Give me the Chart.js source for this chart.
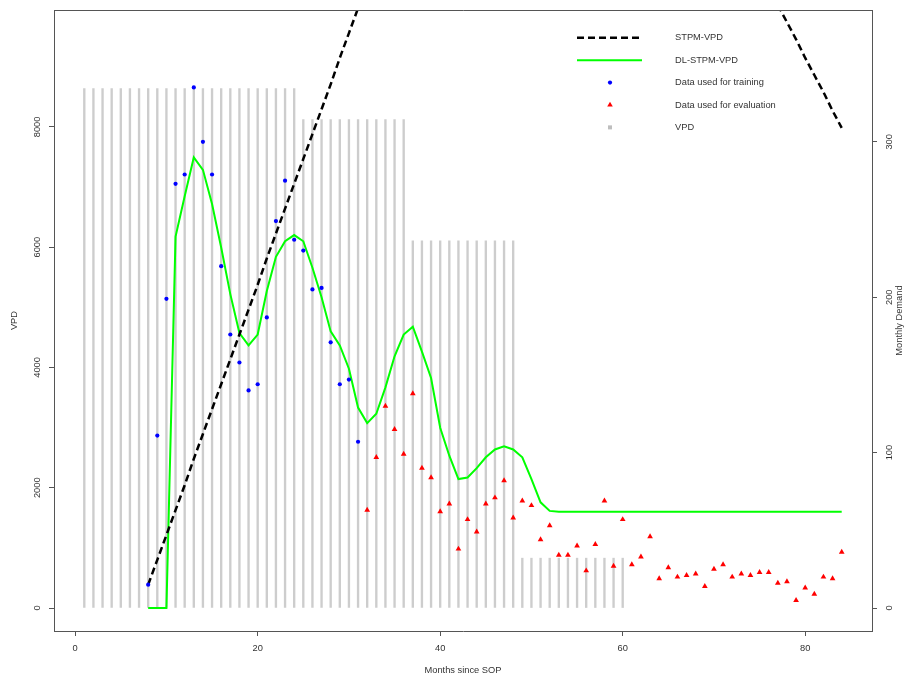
<!DOCTYPE html>
<html>
<head>
<meta charset="utf-8">
<script src="https://cdn.jsdelivr.net/npm/chart.js@4.4.1/dist/chart.umd.min.js"></script>
<style>
  html, body { margin: 0; padding: 0; background: #ffffff; }
  canvas { display: block; }
</style>
</head>
<body>
<canvas id="chart" width="904" height="682"></canvas>
<script>
// Axis tick values
const xTicks = [0, 20, 40, 60, 80];
const vpdTicks = [0, 2000, 4000, 6000, 8000];
const demandTicks = [0, 100, 200, 300];

function range(a, b) { const r = []; for (let i = a; i <= b; i++) r.push(i); return r; }

// VPD per month (left axis), months 1..60
const vpdMonths = range(1, 60);
const vpdValues = [
  8635, 8635, 8635, 8635, 8635, 8635, 8635, 8635, 8635, 8635, 8635, 8635,
  8635, 8635, 8635, 8635, 8635, 8635, 8635, 8635, 8635, 8635, 8635, 8635,
  8121, 8121, 8121, 8121, 8121, 8121, 8121, 8121, 8121, 8121, 8121, 8121,
  6106, 6106, 6106, 6106, 6106, 6106, 6106, 6106, 6106, 6106, 6106, 6106,
  829, 829, 829, 829, 829, 829, 829, 829, 829, 829, 829, 829
];

// Monthly demand used for training (right axis), months 8..31
const trainMonths = range(8, 31);
const trainDemand = [15, 111, 199, 273, 279, 335, 300, 279, 220, 176, 158, 140,
                     144, 187, 249, 275, 237, 230, 205, 206, 171, 144, 147, 107];

// Monthly demand used for evaluation (right axis), months 32..84
const evalMonths = range(32, 84);
const evalDemand = [63, 97, 130, 115, 99, 138, 90, 84, 62, 67, 38, 57, 49, 67, 71, 82,
                    58, 69, 66, 44, 53, 34, 34, 40, 24, 41, 69, 27, 57, 28, 33, 46,
                    19, 26, 20, 21, 22, 14, 25, 28, 20, 22, 21, 23, 23, 16, 17, 5,
                    13, 9, 20, 19, 36];

// Model curves (right axis), months 8..84
const modelMonths = range(8, 84);
const stpmVpd = [
  15, 31, 47, 63, 79, 96, 112, 128, 144, 160, 176, 192, 208, 225, 241, 257, 273, 289,
  305, 321, 337, 354, 370, 386, 402,
  null, null, null, null, null, null, null, null, null, null, null, null, null, null,
  null, null, null, null, null, null, null, null, null, null, null, null, null, null,
  null, null, null, null, null, null, null, null, null, null, null, null, null, null,
  null, null,
  388, 377, 366, 354, 343, 332, 320, 309
];
const dlStpmVpd = [
  0, 0, 0, 239, 265, 290, 282, 260, 232, 202, 177, 169, 176, 204, 226, 236, 240, 236,
  219, 200, 178, 169, 154, 129, 119, 125, 142, 162, 176, 181, 165, 148, 116, 98, 83, 84,
  90, 97, 102, 104, 102, 97, 83, 68, 62.5,
  62, 62, 62, 62, 62, 62, 62, 62, 62, 62, 62, 62, 62, 62, 62, 62,
  62, 62, 62, 62, 62, 62, 62, 62, 62, 62, 62, 62, 62, 62, 62, 62
];

const pts = (xs, ys) => xs.map((x, i) => ({ x: x, y: ys[i] }));

const FONT = "'Liberation Sans', Arial, Helvetica, sans-serif";
const FS = 9.3;
const TEXT = '#333333';
const AXIS = '#555555';
const GREY = '#cdcdcd';

const legendItems = [
  { label: 'STPM-VPD', kind: 'dash' },
  { label: 'DL-STPM-VPD', kind: 'line' },
  { label: 'Data used for training', kind: 'dot' },
  { label: 'Data used for evaluation', kind: 'tri' },
  { label: 'VPD', kind: 'square' }
];

const fixedTicks = (vals) => (scale) => { scale.ticks = vals.map(v => ({ value: v })); };
const plain = (v) => String(v);

// Closes the plot frame, writes the secondary axis title and draws the legend
const framePlugin = {
  id: 'frame',
  afterDraw(chart) {
    const { ctx, chartArea: a } = chart;
    ctx.save();
    ctx.strokeStyle = AXIS;
    ctx.lineWidth = 1;
    ctx.beginPath();
    ctx.moveTo(a.left, Math.round(a.top) + 0.5);
    ctx.lineTo(a.right + 0.5, Math.round(a.top) + 0.5);
    ctx.stroke();

    ctx.fillStyle = TEXT;
    ctx.font = FS + 'px ' + FONT;
    ctx.save();
    ctx.translate(899, (a.top + a.bottom) / 2);
    ctx.rotate(-Math.PI / 2);
    ctx.textAlign = 'center';
    ctx.textBaseline = 'middle';
    ctx.fillText('Monthly Demand', 0, 0);
    ctx.restore();

    const x0 = a.right - 295, x1 = a.right - 230, xm = a.right - 262, xt = a.right - 197;
    legendItems.forEach((it, i) => {
      const y = a.top + 27.7 + i * 22.4;
      if (it.kind === 'dash') {
        ctx.save();
        ctx.strokeStyle = '#000000'; ctx.lineWidth = 2.5; ctx.setLineDash([7, 4]);
        ctx.beginPath(); ctx.moveTo(x0, y); ctx.lineTo(x1, y); ctx.stroke();
        ctx.restore();
      } else if (it.kind === 'line') {
        ctx.save();
        ctx.strokeStyle = '#00ff00'; ctx.lineWidth = 2;
        ctx.beginPath(); ctx.moveTo(x0, y); ctx.lineTo(x1, y); ctx.stroke();
        ctx.restore();
      } else if (it.kind === 'dot') {
        ctx.fillStyle = '#0000ff';
        ctx.beginPath(); ctx.arc(xm, y, 2.1, 0, Math.PI * 2); ctx.fill();
      } else if (it.kind === 'tri') {
        ctx.fillStyle = '#ff0000';
        const r = 3.2;
        ctx.beginPath();
        ctx.moveTo(xm, y - r);
        ctx.lineTo(xm + r * 0.866, y + r / 2);
        ctx.lineTo(xm - r * 0.866, y + r / 2);
        ctx.closePath(); ctx.fill();
      } else {
        ctx.fillStyle = '#bebebe';
        ctx.fillRect(xm - 2, y - 2, 4, 4);
      }
      ctx.fillStyle = TEXT;
      ctx.textAlign = 'left';
      ctx.textBaseline = 'middle';
      ctx.fillText(it.label, xt, y);
    });
    ctx.restore();
  }
};

Chart.defaults.font.family = FONT;
Chart.defaults.font.size = FS;
Chart.defaults.color = TEXT;

new Chart(document.getElementById('chart'), {
  type: 'scatter',
  data: {
    datasets: [
      {
        label: 'Data used for training',
        data: pts(trainMonths, trainDemand),
        yAxisID: 'yR',
        backgroundColor: '#0000ff',
        borderWidth: 0,
        pointRadius: 2.1,
        pointStyle: 'circle',
        order: 1
      },
      {
        label: 'Data used for evaluation',
        data: pts(evalMonths, evalDemand),
        yAxisID: 'yR',
        backgroundColor: '#ff0000',
        borderWidth: 0,
        pointRadius: 3.3,
        pointStyle: 'triangle',
        order: 2
      },
      {
        type: 'line',
        label: 'STPM-VPD',
        data: pts(modelMonths, stpmVpd),
        yAxisID: 'yR',
        borderColor: '#000000',
        borderWidth: 2.5,
        borderDash: [7, 4],
        pointRadius: 0,
        tension: 0,
        spanGaps: false,
        clip: 0,
        order: 3
      },
      {
        type: 'line',
        label: 'DL-STPM-VPD',
        data: pts(modelMonths, dlStpmVpd),
        yAxisID: 'yR',
        borderColor: '#00ff00',
        borderWidth: 2,
        pointRadius: 0,
        tension: 0,
        clip: 0,
        order: 4
      },
      {
        type: 'bar',
        label: 'VPD',
        data: pts(vpdMonths, vpdValues),
        yAxisID: 'yL',
        backgroundColor: GREY,
        borderWidth: 0,
        barThickness: 1.7,
        grouped: false,
        order: 5
      }
    ]
  },
  options: {
    responsive: false,
    animation: false,
    events: [],
    layout: { padding: { top: 8, left: 0, right: 0, bottom: 0 } },
    plugins: { legend: { display: false }, tooltip: { enabled: false } },
    scales: {
      x: {
        type: 'linear',
        position: 'bottom',
        offset: false,
        min: -2.32,
        max: 87.32,
        afterBuildTicks: fixedTicks(xTicks),
        afterFit: (s) => { s.height = 51; },
        grid: { offset: false, drawOnChartArea: false, drawTicks: true, tickLength: 5, color: AXIS },
        border: { display: true, color: AXIS },
        ticks: { padding: 7, color: TEXT, maxRotation: 0, callback: plain, font: { size: FS } },
        title: { display: true, text: 'Months since SOP', color: TEXT, font: { size: FS }, padding: { top: 0, bottom: 6.4 } }
      },
      yL: {
        type: 'linear',
        position: 'left',
        min: -382,
        max: 9942,
        afterBuildTicks: fixedTicks(vpdTicks),
        afterFit: (s) => { s.width = 54; },
        grid: { drawOnChartArea: false, drawTicks: true, tickLength: 5, color: AXIS },
        border: { display: true, color: AXIS },
        ticks: { padding: 1.4, crossAlign: 'center', minRotation: 90, maxRotation: 90, callback: plain, color: TEXT, font: { size: FS } },
        title: { display: true, text: 'VPD', color: TEXT, font: { size: FS }, padding: { top: 8.4, bottom: 0 } }
      },
      yR: {
        type: 'linear',
        position: 'right',
        min: -14.8,
        max: 384.8,
        afterBuildTicks: fixedTicks(demandTicks),
        afterFit: (s) => { s.width = 32; },
        grid: { drawOnChartArea: false, drawTicks: true, tickLength: 5, color: AXIS },
        border: { display: true, color: AXIS },
        ticks: { padding: 4.5, crossAlign: 'center', minRotation: 90, maxRotation: 90, callback: plain, color: TEXT, font: { size: FS } }
      }
    }
  },
  plugins: [framePlugin]
});
</script>
</body>
</html>
